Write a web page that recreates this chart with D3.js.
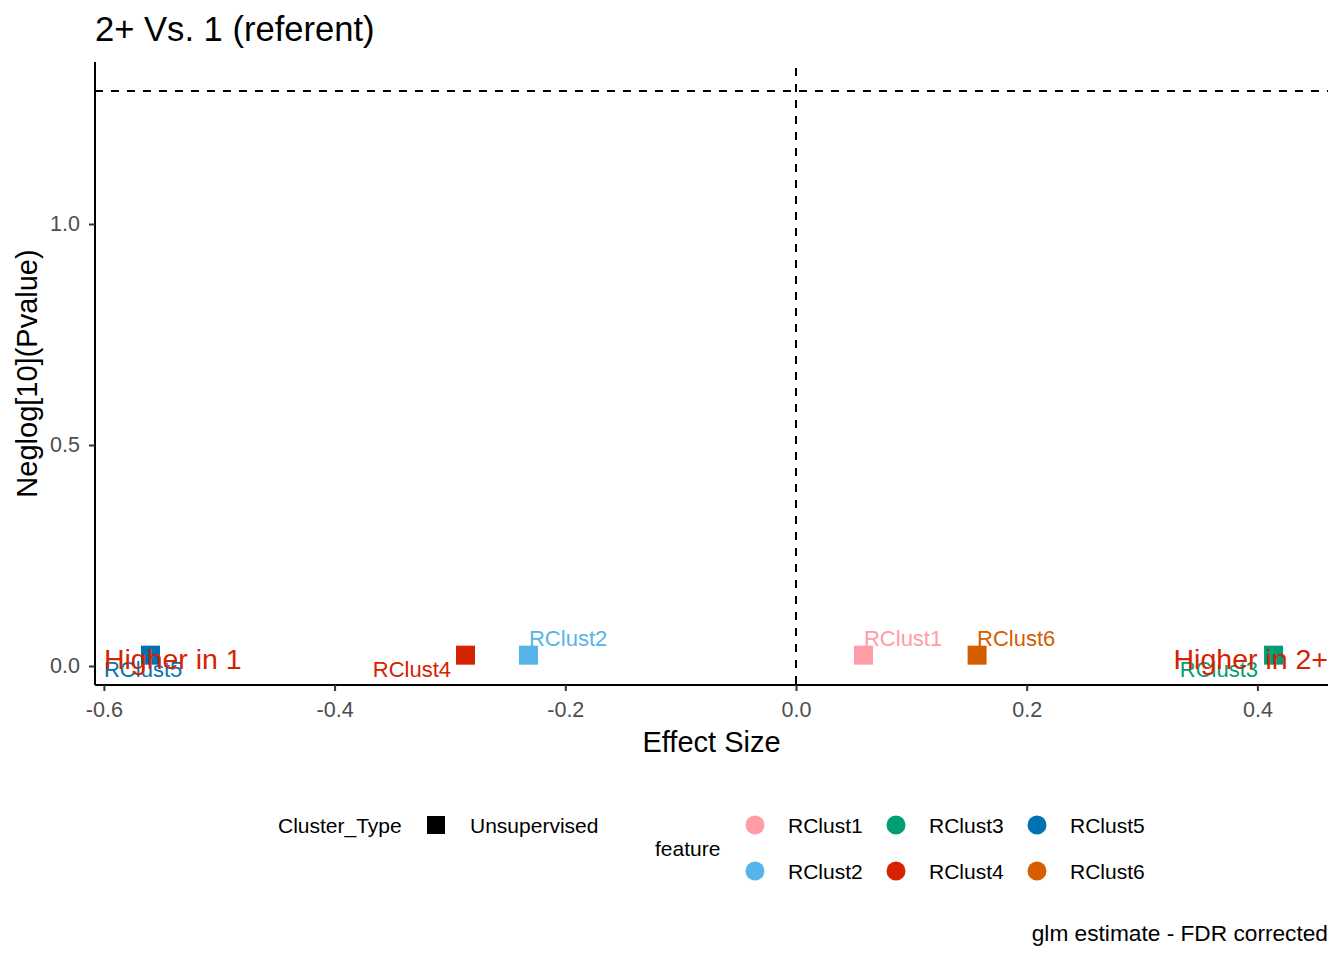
<!DOCTYPE html>
<html>
<head>
<meta charset="utf-8">
<script src="https://cdn.jsdelivr.net/npm/d3@7/dist/d3.min.js"></script>
<style>
  html, body { margin: 0; padding: 0; background: #fff; }
  text { font-family: "Liberation Sans", Arial, sans-serif; }
</style>
</head>
<body>
<svg id="chart" width="1344" height="960"></svg>
<script>
// ---- data ----
const features = ["RClust1", "RClust2", "RClust3", "RClust4", "RClust5", "RClust6"];
const effectSize = [0.0585, -0.2319, 0.414, -0.2865, -0.5596, 0.157];
const neglogP = [0.0245, 0.0245, 0.0245, 0.0245, 0.0245, 0.0245];
const featureColors = ["#FF9DA7", "#56B4E9", "#009E73", "#D52200", "#0072B2", "#D55E00"];
const xTicks = [-0.6, -0.4, -0.2, 0.0, 0.2, 0.4];
const yTicks = [0.0, 0.5, 1.0];
const xDomain = [-0.6077, 0.4612];
const yDomain = [-0.043, 1.3665];
const sigThreshold = 1.30103; // -log10(0.05)
const clusterTypes = ["Unsupervised"];

// ---- layout ----
const panel = { left: 95, right: 1328, top: 62, bottom: 685 };
const svg = d3.select("#chart");
const x = d3.scaleLinear().domain(xDomain).range([panel.left, panel.right]);
const y = d3.scaleLinear().domain(yDomain).range([panel.bottom, panel.top]);
const color = d3.scaleOrdinal().domain(features).range(featureColors);
const fmt = v => d3.format(".1f")(v).replace("\u2212", "-");

const data = features.map((f, i) => ({ feature: f, x: effectSize[i], y: neglogP[i] }));

// reference lines
svg.append("line")
  .attr("x1", panel.left).attr("x2", panel.right)
  .attr("y1", y(sigThreshold)).attr("y2", y(sigThreshold))
  .attr("stroke", "#000").attr("stroke-width", 2).attr("stroke-dasharray", "8,8");
svg.append("line")
  .attr("x1", x(0)).attr("x2", x(0))
  .attr("y1", panel.top + 6).attr("y2", panel.bottom)
  .attr("stroke", "#000").attr("stroke-width", 2).attr("stroke-dasharray", "8,8");

// axes
const xAxis = svg.append("g").attr("transform", `translate(0,${panel.bottom})`)
  .call(d3.axisBottom(x).tickValues(xTicks).tickFormat(fmt).tickSizeOuter(0).tickSize(6).tickPadding(11));
const yAxis = svg.append("g").attr("transform", `translate(${panel.left},0)`)
  .call(d3.axisLeft(y).tickValues(yTicks).tickFormat(fmt).tickSizeOuter(0).tickSize(6).tickPadding(9));
[xAxis, yAxis].forEach(g => {
  g.select(".domain").attr("stroke", "#000").attr("stroke-width", 2);
  g.selectAll(".tick line").attr("stroke", "#333").attr("stroke-width", 2);
  g.selectAll(".tick text").attr("fill", "#4D4D4D").style("font-size", "21.5px")
    .style("font-family", "'Liberation Sans', Arial, sans-serif");
});
// extend axis lines to the panel corners
xAxis.select(".domain").attr("d", `M${panel.left},0H${panel.right}`);
yAxis.select(".domain").attr("d", `M0,${panel.top}V${panel.bottom}`);

// points (squares)
const sq = 19;
svg.append("g").selectAll("rect").data(data).join("rect")
  .attr("x", d => x(d.x) - sq / 2)
  .attr("y", d => y(d.y) - sq / 2)
  .attr("width", sq).attr("height", sq)
  .attr("fill", d => color(d.feature));

// point labels (repelled positions)
const placement = {
  RClust1: { dx: 0.5, dy: -9, anchor: "start" },
  RClust2: { dx: 0.5, dy: -9, anchor: "start" },
  RClust6: { dx: 0, dy: -9, anchor: "start" },
  RClust4: { dx: -14.5, dy: 22, anchor: "end" },
  RClust3: { dx: -15.5, dy: 22, anchor: "end" },
  RClust5: { dx: -46.5, dy: 22, anchor: "start" }
};
svg.append("g").selectAll("text").data(data).join("text")
  .attr("x", d => x(d.x) + placement[d.feature].dx)
  .attr("y", d => y(d.y) + placement[d.feature].dy)
  .attr("text-anchor", d => placement[d.feature].anchor)
  .attr("fill", d => color(d.feature))
  .style("font-size", "22px")
  .text(d => d.feature);

// annotations
svg.append("text").attr("x", x(-0.6)).attr("y", y(0) + 3)
  .attr("fill", "#D52200").style("font-size", "28.5px").text("Higher in 1");
svg.append("text").attr("x", panel.right).attr("y", y(0) + 3)
  .attr("text-anchor", "end")
  .attr("fill", "#D52200").style("font-size", "28.5px").text("Higher in 2+");

// titles
svg.append("text").attr("x", panel.left).attr("y", 41)
  .style("font-size", "34.6px").attr("fill", "#000").text("2+ Vs. 1 (referent)");
svg.append("text").attr("x", (panel.left + panel.right) / 2).attr("y", 752)
  .attr("text-anchor", "middle").style("font-size", "29px").text("Effect Size");
svg.append("text")
  .attr("transform", `translate(37,${(panel.top + panel.bottom) / 2}) rotate(-90)`)
  .attr("text-anchor", "middle").style("font-size", "29px").text("Neglog[10](Pvalue)");
svg.append("text").attr("x", panel.right).attr("y", 941)
  .attr("text-anchor", "end").style("font-size", "22.7px").text("glm estimate - FDR corrected");

// legend: Cluster_Type
const lg = svg.append("g");
lg.append("text").attr("x", 278).attr("y", 833).style("font-size", "21px").text("Cluster_Type");
clusterTypes.forEach((c, i) => {
  lg.append("rect").attr("x", 427).attr("y", 816).attr("width", 18).attr("height", 18).attr("fill", "#000");
  lg.append("text").attr("x", 470).attr("y", 833).style("font-size", "21px").text(c);
});

// legend: feature
lg.append("text").attr("x", 655).attr("y", 856).style("font-size", "21px").text("feature");
const colX = [755, 896, 1037];
const rowY = [825, 871];
features.forEach((f, i) => {
  const col = Math.floor(i / 2), row = i % 2;
  lg.append("circle").attr("cx", colX[col]).attr("cy", rowY[row]).attr("r", 9.5).attr("fill", color(f));
  lg.append("text").attr("x", colX[col] + 33).attr("y", rowY[row] + 7.5)
    .style("font-size", "21px").text(f);
});
</script>
</body>
</html>
